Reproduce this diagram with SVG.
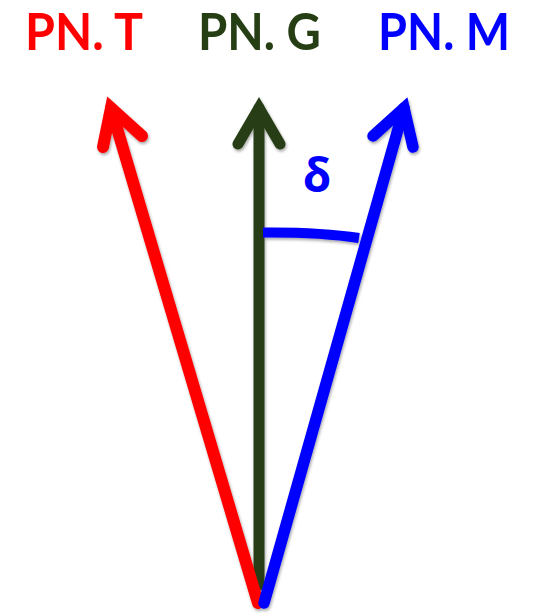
<svg xmlns="http://www.w3.org/2000/svg" width="533" height="613" viewBox="0 0 533 613">
<defs>
<filter id="sh" x="-20%" y="-20%" width="140%" height="140%">
<feDropShadow dx="1" dy="2" stdDeviation="1.5" flood-color="#000" flood-opacity="0.35"/>
</filter>
<style>
.lbl{font-family:Lato,"Open Sans","Liberation Sans",sans-serif;font-weight:bold;font-size:51px}
.ln{fill:none;stroke-linecap:round;stroke-linejoin:miter;stroke-miterlimit:10}
</style>
</defs>
<rect width="533" height="613" fill="#fff"/>
<g id="label-t"><text class="lbl" x="25" y="50" fill="#ff0000" textLength="118" lengthAdjust="spacingAndGlyphs">PN. T</text></g>
<g id="label-g"><text class="lbl" x="198" y="50" fill="#263e14" textLength="123" lengthAdjust="spacingAndGlyphs">PN. G</text></g>
<g id="label-m"><text class="lbl" x="378" y="50" fill="#0000ff" textLength="132" lengthAdjust="spacingAndGlyphs">PN. M</text></g>
<g id="connectors" filter="url(#sh)">
<g id="arrow-g">
<line class="ln" x1="259" y1="585" x2="259" y2="108" stroke="#263e14" stroke-width="11" stroke-linecap="butt"/>
<polyline class="ln" points="238,144 259,108 280,144" stroke="#263e14" stroke-width="11"/>
</g>
<g id="arrow-t">
<line class="ln" x1="258" y1="603" x2="111" y2="108" stroke="#ff0000" stroke-width="12" stroke-linecap="butt"/>
<polyline class="ln" points="103,147 111,108 142,136" stroke="#ff0000" stroke-width="12"/>
</g>
<g id="arrow-m">
<line class="ln" x1="264" y1="603" x2="404" y2="108" stroke="#0000ff" stroke-width="11.5" stroke-linecap="butt"/>
<polyline class="ln" points="373,136 404,108 413,147" stroke="#0000ff" stroke-width="11.5"/>
</g>
<path id="angle-arc" d="M263,232.5 Q320,232 359,238" fill="none" stroke="#0000ff" stroke-width="10"/>
</g>
<g id="label-delta"><text x="317" y="192" text-anchor="middle" font-family="'Open Sans','Liberation Sans',sans-serif" font-weight="bold" font-size="46" fill="#0000ff">δ</text></g>
</svg>
